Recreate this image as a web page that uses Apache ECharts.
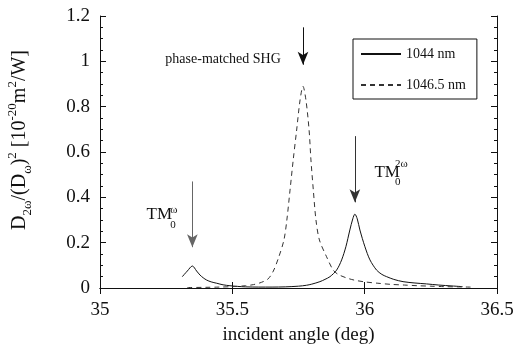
<!DOCTYPE html>
<html>
<head>
<meta charset="utf-8">
<script src="https://cdn.jsdelivr.net/npm/echarts@6/dist/echarts.min.js"></script>
<style>
  html, body { margin: 0; padding: 0; background: #fff; }
  #main { width: 514px; height: 345px; }
</style>
</head>
<body>
<div id="main"></div>
<script>
// 1044 nm (solid)
const solidAngles = [35.311, 35.33, 35.349, 35.365, 35.378, 35.39, 35.403, 35.42, 35.441, 35.465,
  35.491, 35.52, 35.55, 35.6, 35.65, 35.7, 35.75, 35.78, 35.80, 35.831, 35.85, 35.869, 35.894,
  35.913, 35.929, 35.944, 35.955, 35.963, 35.972, 35.982, 36.001, 36.020, 36.045, 36.065, 36.083,
  36.11, 36.145, 36.19, 36.234, 36.28, 36.33, 36.37];
const solidValues = [0.050, 0.075, 0.097, 0.075, 0.057, 0.045, 0.035, 0.027, 0.021, 0.014,
  0.010, 0.007, 0.005, 0.004, 0.004, 0.005, 0.008, 0.012, 0.017, 0.028, 0.038, 0.050, 0.079,
  0.124, 0.182, 0.256, 0.305, 0.326, 0.305, 0.256, 0.182, 0.124, 0.079, 0.060, 0.050,
  0.038, 0.028, 0.022, 0.018, 0.013, 0.009, 0.006];
// 1046.5 nm (dashed)
const dashedAngles = [35.33, 35.40, 35.45, 35.50, 35.55, 35.58, 35.61, 35.635, 35.655, 35.675,
  35.695, 35.706, 35.718, 35.730, 35.743, 35.756, 35.767, 35.778, 35.790, 35.797, 35.806, 35.816,
  35.829, 35.856, 35.881, 35.90, 35.93, 35.96, 36.00, 36.05, 36.10, 36.15, 36.20, 36.25, 36.30,
  36.35, 36.40];
const dashedValues = [0.002, 0.003, 0.004, 0.006, 0.010, 0.015, 0.025, 0.040, 0.075, 0.135,
  0.212, 0.30, 0.432, 0.565, 0.697, 0.83, 0.89, 0.83, 0.697, 0.565, 0.432, 0.30,
  0.212, 0.138, 0.079, 0.060, 0.045, 0.035, 0.027, 0.021, 0.016, 0.013, 0.010, 0.008, 0.006,
  0.005, 0.004];
const seriesNames = ['1044 nm', '1046.5 nm'];
const xTicks = [35, 35.5, 36, 36.5];
const yTicks = [0, 0.2, 0.4, 0.6, 0.8, 1, 1.2];

const serif = 'Liberation Serif';
const ink = '#111';

const zip = (xs, ys) => xs.map((x, i) => [x, ys[i]]);

// annotation arrows: [angle, from, to, colour]
const arrows = [
  [35.767, 1.15, 0.985, '#111'],
  [35.963, 0.67, 0.378, '#333'],
  [35.349, 0.47, 0.18, '#666']
];
// annotation texts: [angle, value, text, size, anchor]
const notes = [
  [35.465, 1.010, 'phase-matched SHG', 14, 'center'],
  [35.176, 0.322, 'TM', 17, 'left'],
  [35.265, 0.345, 'ω', 11, 'left'],
  [35.265, 0.276, '0', 11, 'left'],
  [36.037, 0.510, 'TM', 17, 'left'],
  [36.115, 0.546, '2ω', 11, 'left'],
  [36.115, 0.465, '0', 11, 'left']
];

const chart = echarts.init(document.getElementById('main'));

const axisLine = { show: true, lineStyle: { color: ink, width: 1 } };
const tick = { show: true, inside: true, length: 6, lineStyle: { color: ink } };
const minor = { show: true, splitNumber: 4, length: 3, lineStyle: { color: ink } };

const option = {
  animation: false,
  grid: { left: 100, right: 17, top: 16, bottom: 57, outerBoundsMode: 'none', containLabel: false },
  legend: {
    left: 353, top: 39,
    orient: 'vertical',
    itemWidth: 40, itemHeight: 14, itemGap: 17,
    padding: [8, 11, 7, 7],
    borderColor: ink, borderWidth: 1,
    itemStyle: { opacity: 0 },
    textStyle: { fontFamily: serif, fontSize: 14, color: ink },
    data: seriesNames
  },
  xAxis: [{
    type: 'value', min: xTicks[0], max: xTicks[xTicks.length - 1], interval: 0.5,
    axisLine, axisTick: tick, splitLine: { show: false },
    axisLabel: { margin: 13, fontFamily: serif, fontSize: 19, color: ink },
    name: 'incident angle (deg)', nameLocation: 'middle', nameGap: 38,
    nameTextStyle: { fontFamily: serif, fontSize: 19, color: ink }
  }, {
    type: 'value', position: 'top', min: xTicks[0], max: xTicks[xTicks.length - 1], interval: 0.5,
    axisLine, axisTick: tick, axisLabel: { show: false }, splitLine: { show: false }
  }],
  yAxis: [{
    type: 'value', min: yTicks[0], max: yTicks[yTicks.length - 1], interval: 0.2,
    axisLine, axisTick: tick, minorTick: minor, splitLine: { show: false },
    axisLabel: { margin: 10, fontFamily: serif, fontSize: 19, color: ink },
    name: '{m|D}{sub|2ω}{m|/(D}{sub|ω}{m|)}{sup|2}{m| [10}{sup|-20}{m|m}{sup|2}{m|/W]}',
    nameLocation: 'middle', nameGap: 66,
    nameTextStyle: {
      color: ink,
      padding: [0, 0, 0, 24],
      rich: {
        m: { fontFamily: serif, fontSize: 20, color: ink, lineHeight: 28, verticalAlign: 'middle' },
        sub: { fontFamily: serif, fontSize: 13, color: ink, lineHeight: 28, verticalAlign: 'bottom' },
        sup: { fontFamily: serif, fontSize: 13, color: ink, lineHeight: 28, verticalAlign: 'top' }
      }
    }
  }, {
    type: 'value', position: 'right', min: yTicks[0], max: yTicks[yTicks.length - 1], interval: 0.2,
    axisLine, axisTick: tick, minorTick: minor, axisLabel: { show: false }, splitLine: { show: false }
  }],
  series: [{
    name: seriesNames[0],
    type: 'line',
    data: zip(solidAngles, solidValues),
    showSymbol: false, symbol: 'none',
    smooth: 0.3,
    lineStyle: { color: '#111', width: 1 },
    itemStyle: { color: '#111' },
    z: 3,
    markLine: {
      silent: true,
      symbol: ['none', 'arrow'],
      symbolSize: [8, 13],
      label: { show: false },
      data: arrows.map(([x, y0, y1, c]) => [
        { coord: [x, y0], lineStyle: { color: c, width: 1, type: 'solid' }, itemStyle: { color: c } },
        { coord: [x, y1] }
      ])
    },
    markPoint: {
      silent: true,
      symbol: 'circle', symbolSize: 0,
      data: notes.map(([x, y, t, s, al]) => ({
        coord: [x, y],
        label: {
          show: true, formatter: t, position: al === 'left' ? 'right' : 'inside',
          distance: 0, fontFamily: serif, fontSize: s, color: ink
        }
      }))
    }
  }, {
    name: seriesNames[1],
    type: 'line',
    data: zip(dashedAngles, dashedValues),
    showSymbol: false, symbol: 'none',
    smooth: 0.3,
    lineStyle: { color: '#333', width: 1, type: [5, 4] },
    itemStyle: { color: '#333' }
  }]
};

chart.setOption(option);
</script>
</body>
</html>
